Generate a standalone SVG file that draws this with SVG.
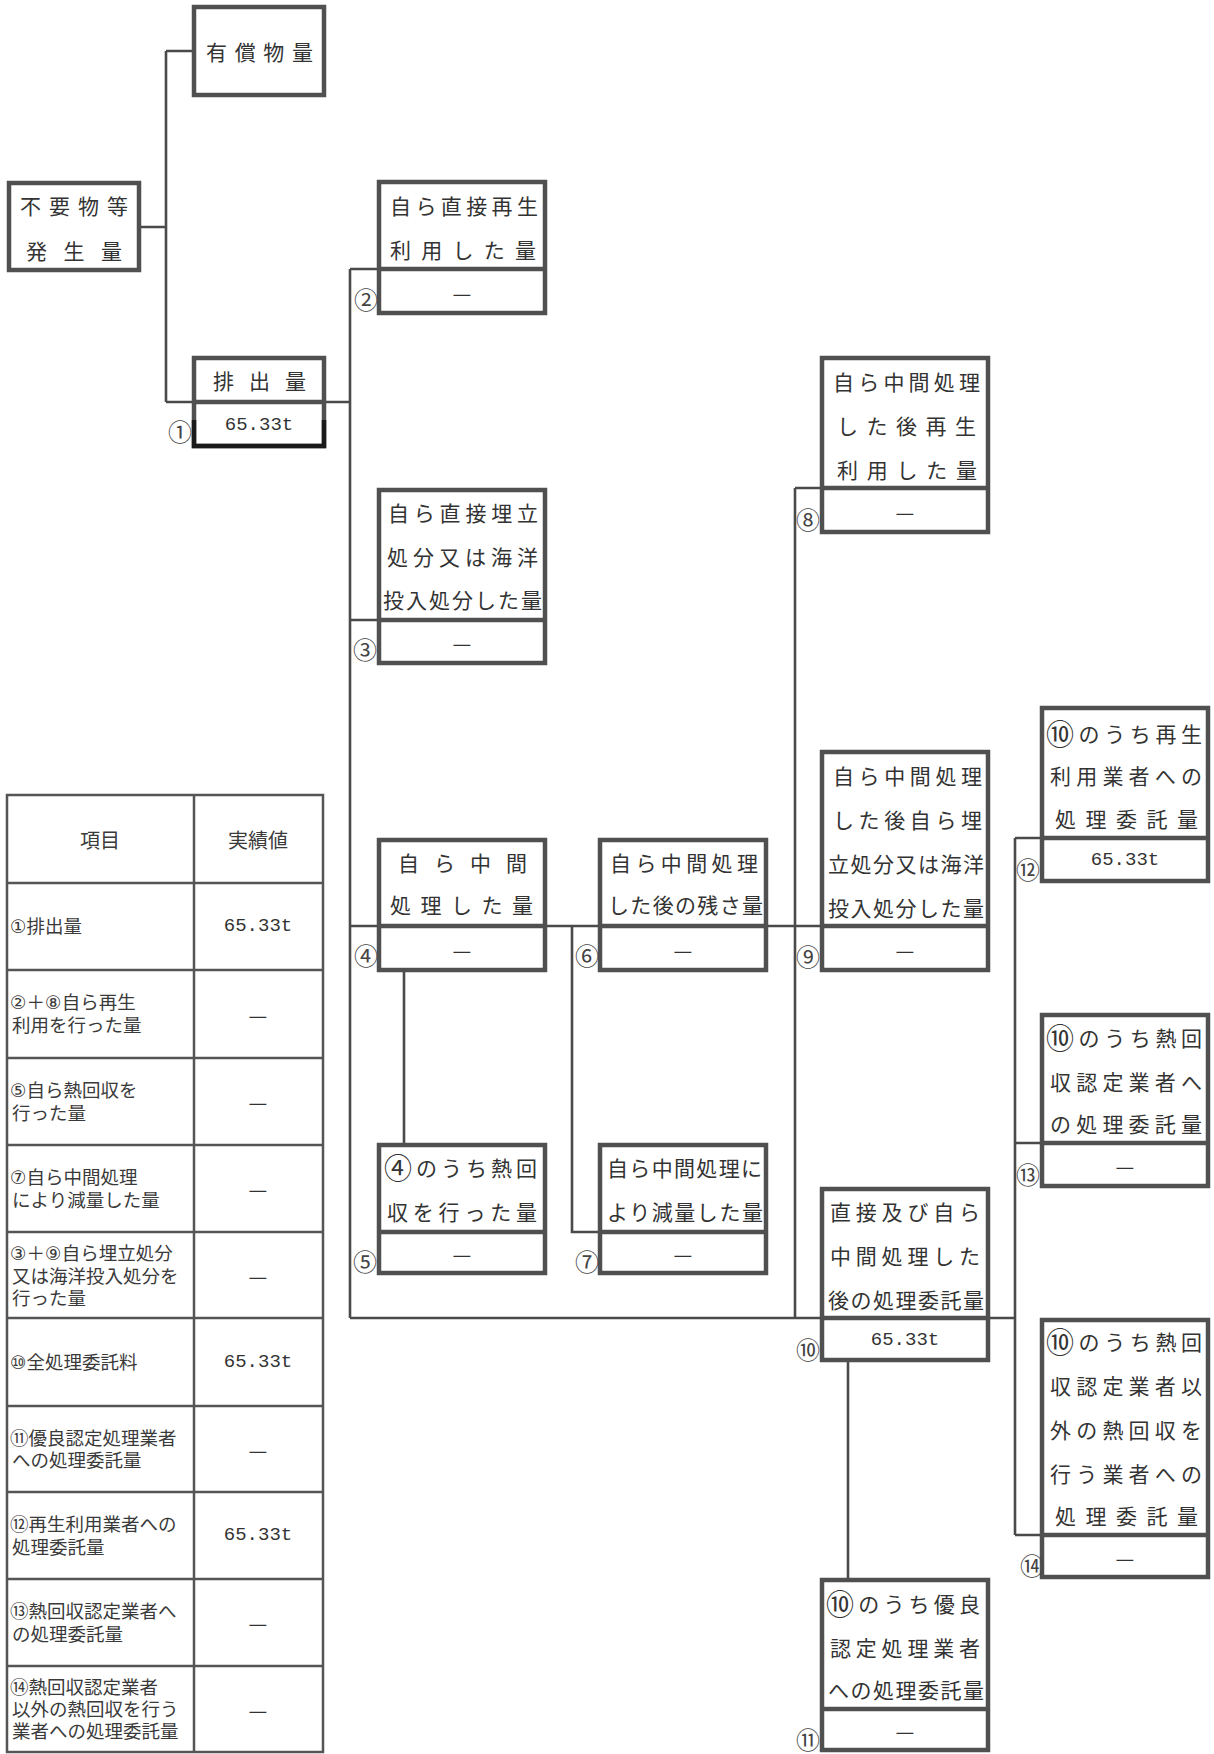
<svg xmlns="http://www.w3.org/2000/svg" width="1214" height="1754" viewBox="0 0 1214 1754">
<style>
.bx{fill:#fff;stroke:#505050;stroke-width:4.5}
.dv{stroke:#505050;stroke-width:4.5;fill:none}
.cn{stroke:#4a4a4a;stroke-width:2.6;fill:none}
.t{font-family:"Noto Sans CJK JP",sans-serif;font-size:21px;fill:#333;dominant-baseline:central}
.v{font-family:"Liberation Mono",monospace;font-size:19px;fill:#333;text-anchor:middle;dominant-baseline:central}
.d{font-family:"Noto Sans CJK JP",sans-serif;font-size:21px;fill:#333;text-anchor:middle;dominant-baseline:central}
.n{font-family:"Noto Sans CJK JP",sans-serif;font-size:24px;fill:#444;text-anchor:middle;dominant-baseline:central}
.tb{fill:none;stroke:#555;stroke-width:2.5}
.tt{font-family:"DejaVu Sans","Noto Sans CJK JP",sans-serif;font-size:18.5px;fill:#3a3a3a;dominant-baseline:central}
.th{font-family:"Noto Sans CJK JP",sans-serif;font-size:20px;fill:#3a3a3a;dominant-baseline:central;text-anchor:middle}
.cb{font-size:28px;dominant-baseline:central}
</style>
<rect x="0" y="0" width="1214" height="1754" fill="#fff"/>

<g id="connectors" class="cn">
<path d="M141,227 H166 M166,51 V402 M166,51 H192 M166,402 H192"/>
<path d="M326,402 H350 M350,269 V1318 M350,269 H377 M350,620 H377 M350,926 H820 M350,1318 H820"/>
<path d="M404,972 V1143"/>
<path d="M572,926 V1232 H598"/>
<path d="M795,488 V1318 M795,488 H820"/>
<path d="M990,1318 H1015 M1015,838 V1535 M1015,838 H1040 M1015,1143 H1040 M1015,1535 H1040"/>
<path d="M848,1362 V1578"/>
</g>

<g id="yushobutsu">
<rect class="bx" x="194" y="7" width="130" height="88"/>
<text class="t" x="206" y="51" textLength="107" lengthAdjust="spacing">有償物量</text>
</g>

<g id="fuyobutsu">
<rect class="bx" x="9" y="183" width="130" height="87"/>
<text class="t" x="20" y="205" textLength="108" lengthAdjust="spacing">不要物等</text>
<text class="t" x="26" y="250" textLength="96" lengthAdjust="spacing">発生量</text>
</g>

<g id="n1">
<rect class="bx" x="194" y="358" width="130" height="88"/>
<path class="dv" d="M194,402 H324"/>
<path d="M194,420 V446 H324 V420" fill="none" stroke="#1a1a1a" stroke-width="4.5"/>
<text class="t" x="213" y="380" textLength="93" lengthAdjust="spacing">排出量</text>
<text class="v" x="259" y="425">65.33t</text>
<text class="n" x="180" y="430">①</text>
</g>

<g id="n2">
<rect class="bx" x="379" y="182" width="166" height="131"/>
<path class="dv" d="M379,269 H545"/>
<text class="t" x="390" y="205" textLength="148" lengthAdjust="spacing">自ら直接再生</text>
<text class="t" x="390" y="249" textLength="146" lengthAdjust="spacing">利用した量</text>
<text class="d" x="462" y="292">—</text>
<text class="n" x="366" y="298">②</text>
</g>

<g id="n3">
<rect class="bx" x="379" y="490" width="166" height="173"/>
<path class="dv" d="M379,620 H545"/>
<text class="t" x="388" y="512" textLength="150" lengthAdjust="spacing">自ら直接埋立</text>
<text class="t" x="387" y="556" textLength="151" lengthAdjust="spacing">処分又は海洋</text>
<text class="t" x="383" y="599" textLength="159" lengthAdjust="spacing">投入処分した量</text>
<text class="d" x="462" y="642">—</text>
<text class="n" x="365" y="648">③</text>
</g>

<g id="n4">
<rect class="bx" x="379" y="840" width="166" height="130"/>
<path class="dv" d="M379,926 H545"/>
<text class="t" x="398" y="862" textLength="129" lengthAdjust="spacing">自ら中間</text>
<text class="t" x="390" y="904" textLength="143" lengthAdjust="spacing">処理した量</text>
<text class="d" x="462" y="949">—</text>
<text class="n" x="366" y="954">④</text>
</g>

<g id="n5">
<rect class="bx" x="379" y="1145" width="166" height="128"/>
<path class="dv" d="M379,1232 H545"/>
<text class="t" x="384" y="1167" textLength="153" lengthAdjust="spacing"><tspan class="cb">④</tspan>のうち熱回</text>
<text class="t" x="387" y="1211" textLength="150" lengthAdjust="spacing">収を行った量</text>
<text class="d" x="462" y="1253">—</text>
<text class="n" x="365" y="1260">⑤</text>
</g>

<g id="n6">
<rect class="bx" x="600" y="840" width="166" height="130"/>
<path class="dv" d="M600,926 H766"/>
<text class="t" x="610" y="862" textLength="148" lengthAdjust="spacing">自ら中間処理</text>
<text class="t" x="608" y="904" textLength="155" lengthAdjust="spacing">した後の残さ量</text>
<text class="d" x="683" y="949">—</text>
<text class="n" x="587" y="954">⑥</text>
</g>

<g id="n7">
<rect class="bx" x="600" y="1145" width="166" height="128"/>
<path class="dv" d="M600,1232 H766"/>
<text class="t" x="607" y="1167" textLength="155" lengthAdjust="spacing">自ら中間処理に</text>
<text class="t" x="607" y="1211" textLength="156" lengthAdjust="spacing">より減量した量</text>
<text class="d" x="683" y="1253">—</text>
<text class="n" x="587" y="1260">⑦</text>
</g>

<g id="n8">
<rect class="bx" x="822" y="358" width="166" height="174"/>
<path class="dv" d="M822,488 H988"/>
<text class="t" x="833" y="381" textLength="147" lengthAdjust="spacing">自ら中間処理</text>
<text class="t" x="837" y="425" textLength="139" lengthAdjust="spacing">した後再生</text>
<text class="t" x="837" y="469" textLength="140" lengthAdjust="spacing">利用した量</text>
<text class="d" x="905" y="511">—</text>
<text class="n" x="808" y="518">⑧</text>
</g>

<g id="n9">
<rect class="bx" x="822" y="752" width="166" height="218"/>
<path class="dv" d="M822,926 H988"/>
<text class="t" x="833" y="775" textLength="149" lengthAdjust="spacing">自ら中間処理</text>
<text class="t" x="833" y="819" textLength="149" lengthAdjust="spacing">した後自ら埋</text>
<text class="t" x="828" y="863" textLength="156" lengthAdjust="spacing">立処分又は海洋</text>
<text class="t" x="828" y="907" textLength="156" lengthAdjust="spacing">投入処分した量</text>
<text class="d" x="905" y="949">—</text>
<text class="n" x="808" y="955">⑨</text>
</g>

<g id="n10">
<rect class="bx" x="822" y="1189" width="166" height="171"/>
<path class="dv" d="M822,1318 H988"/>
<text class="t" x="830" y="1211" textLength="150" lengthAdjust="spacing">直接及び自ら</text>
<text class="t" x="830" y="1255" textLength="150" lengthAdjust="spacing">中間処理した</text>
<text class="t" x="828" y="1299" textLength="156" lengthAdjust="spacing">後の処理委託量</text>
<text class="v" x="905" y="1340">65.33t</text>
<text class="n" x="808" y="1348">⑩</text>
</g>

<g id="n11">
<rect class="bx" x="822" y="1580" width="166" height="170"/>
<path class="dv" d="M822,1709 H988"/>
<text class="t" x="826" y="1603" textLength="154" lengthAdjust="spacing"><tspan class="cb">⑩</tspan>のうち優良</text>
<text class="t" x="830" y="1647" textLength="150" lengthAdjust="spacing">認定処理業者</text>
<text class="t" x="828" y="1689" textLength="156" lengthAdjust="spacing">への処理委託量</text>
<text class="d" x="905" y="1730">—</text>
<text class="n" x="808" y="1738">⑪</text>
</g>

<g id="n12">
<rect class="bx" x="1042" y="708" width="166" height="173"/>
<path class="dv" d="M1042,838 H1208"/>
<text class="t" x="1046" y="733" textLength="156" lengthAdjust="spacing"><tspan class="cb">⑩</tspan>のうち再生</text>
<text class="t" x="1050" y="775" textLength="152" lengthAdjust="spacing">利用業者への</text>
<text class="t" x="1055" y="818" textLength="143" lengthAdjust="spacing">処理委託量</text>
<text class="v" x="1125" y="860">65.33t</text>
<text class="n" x="1028" y="868">⑫</text>
</g>

<g id="n13">
<rect class="bx" x="1042" y="1015" width="166" height="171"/>
<path class="dv" d="M1042,1143 H1208"/>
<text class="t" x="1046" y="1037" textLength="156" lengthAdjust="spacing"><tspan class="cb">⑩</tspan>のうち熱回</text>
<text class="t" x="1050" y="1081" textLength="152" lengthAdjust="spacing">収認定業者へ</text>
<text class="t" x="1050" y="1123" textLength="152" lengthAdjust="spacing">の処理委託量</text>
<text class="d" x="1125" y="1165">—</text>
<text class="n" x="1028" y="1173">⑬</text>
</g>

<g id="n14">
<rect class="bx" x="1042" y="1320" width="166" height="257"/>
<path class="dv" d="M1042,1535 H1208"/>
<text class="t" x="1046" y="1341" textLength="156" lengthAdjust="spacing"><tspan class="cb">⑩</tspan>のうち熱回</text>
<text class="t" x="1050" y="1385" textLength="152" lengthAdjust="spacing">収認定業者以</text>
<text class="t" x="1050" y="1429" textLength="152" lengthAdjust="spacing">外の熱回収を</text>
<text class="t" x="1050" y="1473" textLength="152" lengthAdjust="spacing">行う業者への</text>
<text class="t" x="1055" y="1515" textLength="143" lengthAdjust="spacing">処理委託量</text>
<text class="d" x="1125" y="1557">—</text>
<text class="n" x="1032" y="1564">⑭</text>
</g>

<g id="summary-table">
<rect class="tb" x="7" y="795" width="316" height="957"/>
<path class="tb" d="M194,795 V1752 M7,883 H323 M7,970 H323 M7,1058 H323 M7,1145 H323 M7,1232 H323 M7,1318 H323 M7,1406 H323 M7,1492 H323 M7,1579 H323 M7,1666 H323"/>
<text class="th" x="100" y="839">項目</text>
<text class="th" x="258" y="839">実績値</text>

<text class="tt" x="10" y="926">①排出量</text>
<text class="v" x="258" y="926">65.33t</text>

<text class="tt" x="10" y="1002">②＋⑧自ら再生</text>
<text class="tt" x="12" y="1025">利用を行った量</text>
<text class="d" x="258" y="1014">—</text>

<text class="tt" x="10" y="1090">⑤自ら熱回収を</text>
<text class="tt" x="12" y="1113">行った量</text>
<text class="d" x="258" y="1101">—</text>

<text class="tt" x="10" y="1177">⑦自ら中間処理</text>
<text class="tt" x="12" y="1200">により減量した量</text>
<text class="d" x="258" y="1188">—</text>

<text class="tt" x="10" y="1253">③＋⑨自ら埋立処分</text>
<text class="tt" x="12" y="1276">又は海洋投入処分を</text>
<text class="tt" x="12" y="1298">行った量</text>
<text class="d" x="258" y="1275">—</text>

<text class="tt" x="10" y="1362">⑩全処理委託料</text>
<text class="v" x="258" y="1362">65.33t</text>

<text class="tt" x="10" y="1438">⑪優良認定処理業者</text>
<text class="tt" x="12" y="1460">への処理委託量</text>
<text class="d" x="258" y="1449">—</text>

<text class="tt" x="10" y="1524">⑫再生利用業者への</text>
<text class="tt" x="12" y="1547">処理委託量</text>
<text class="v" x="258" y="1535">65.33t</text>

<text class="tt" x="10" y="1611">⑬熱回収認定業者へ</text>
<text class="tt" x="12" y="1634">の処理委託量</text>
<text class="d" x="258" y="1622">—</text>

<text class="tt" x="10" y="1687">⑭熱回収認定業者</text>
<text class="tt" x="12" y="1709">以外の熱回収を行う</text>
<text class="tt" x="12" y="1731">業者への処理委託量</text>
<text class="d" x="258" y="1709">—</text>
</g>
</svg>
